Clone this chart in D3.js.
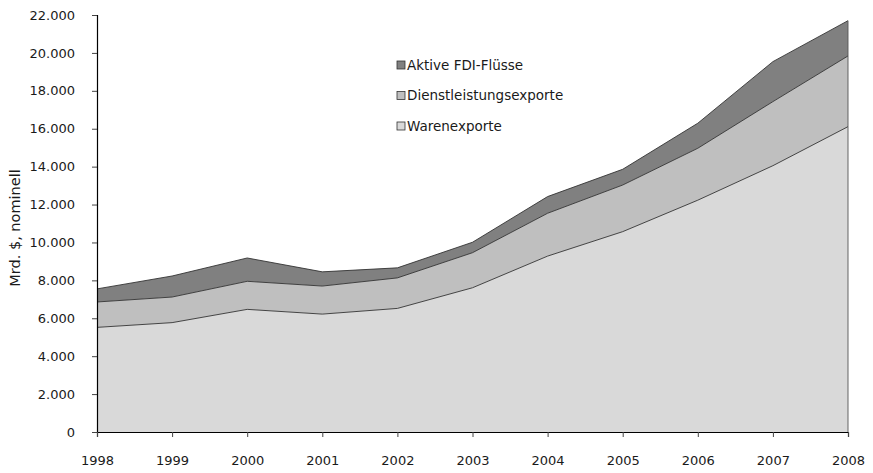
<!DOCTYPE html>
<html>
<head>
<meta charset="utf-8">
<script src="https://cdn.jsdelivr.net/npm/d3@7"></script>
<style>
  body { margin: 0; background: #fff; }
  text { font-family: "DejaVu Sans", sans-serif; fill: #1a1a1a; }
</style>
</head>
<body>
<div id="chart"></div>
<script>
// data
const years = [1998, 1999, 2000, 2001, 2002, 2003, 2004, 2005, 2006, 2007, 2008];
const warenexporte = [5520, 5770, 6470, 6220, 6520, 7610, 9280, 10570, 12230, 14050, 16110];
const dienstleistungsexporte = [1340, 1350, 1480, 1480, 1610, 1850, 2260, 2460, 2740, 3380, 3730];
const fdiFluesse = [690, 1110, 1230, 750, 530, 550, 880, 830, 1320, 2110, 1860];
const seriesNames = ["Warenexporte", "Dienstleistungsexporte", "Aktive FDI-Flüsse"];
const yTicks = [0, 2000, 4000, 6000, 8000, 10000, 12000, 14000, 16000, 18000, 20000, 22000];

const width = 873, height = 473;
const margin = {top: 15, right: 25, bottom: 41, left: 97};
const innerW = width - margin.left - margin.right;
const innerH = height - margin.top - margin.bottom;

const de = d3.formatLocale({decimal: ",", thousands: ".", grouping: [3], currency: ["", " €"]});
const fmt = de.format(",");

const svg = d3.select("#chart").append("svg")
    .attr("width", width)
    .attr("height", height);
const g = svg.append("g")
    .attr("transform", "translate(" + margin.left + "," + margin.top + ")");

const x = d3.scaleLinear().domain([1998, 2008]).range([0, innerW]);
const y = d3.scaleLinear().domain([0, 22000]).range([innerH, 0]);

const table = years.map((yr, i) => ({
    year: yr,
    "Warenexporte": warenexporte[i],
    "Dienstleistungsexporte": dienstleistungsexporte[i],
    "Aktive FDI-Flüsse": fdiFluesse[i]
}));

const stack = d3.stack().keys(seriesNames);
const layers = stack(table);
const colors = {"Warenexporte": "#d9d9d9", "Dienstleistungsexporte": "#bfbfbf", "Aktive FDI-Flüsse": "#808080"};

const area = d3.area()
    .x(d => x(d.data.year))
    .y0(d => y(d[0]))
    .y1(d => y(d[1]));

g.selectAll(".layer")
    .data(layers)
    .enter().append("path")
    .attr("class", "layer")
    .attr("d", area)
    .attr("fill", d => colors[d.key]);

// top edge of every layer
const topLine = d3.line()
    .x(d => x(d.data.year))
    .y(d => y(d[1]));
g.selectAll(".edge")
    .data(layers)
    .enter().append("path")
    .attr("class", "edge")
    .attr("d", topLine)
    .attr("fill", "none")
    .attr("stroke", "#333")
    .attr("stroke-width", 0.9);

// right border at 2008
g.append("line")
    .attr("x1", x(2008)).attr("x2", x(2008))
    .attr("y1", y(0)).attr("y2", y(d3.sum([warenexporte[10], dienstleistungsexporte[10], fdiFluesse[10]])))
    .attr("stroke", "#555")
    .attr("stroke-width", 0.9);

// axes
const yAxis = g.append("g")
    .call(d3.axisLeft(y).tickValues(yTicks).tickFormat(fmt).tickSize(5).tickPadding(17));
yAxis.select(".domain").attr("stroke", "#000").attr("stroke-width", 1.2);
yAxis.selectAll(".tick line").attr("stroke", "#444");
yAxis.selectAll("text").attr("font-size", 13);

const xAxis = g.append("g")
    .attr("transform", "translate(0," + innerH + ")")
    .call(d3.axisBottom(x).tickValues(years).tickFormat(d3.format("d")).tickSize(5).tickPadding(19));
xAxis.select(".domain").attr("stroke", "#000").attr("stroke-width", 1.2);
xAxis.selectAll(".tick line").attr("stroke", "#444");
xAxis.selectAll("text").attr("font-size", 13);

svg.append("text")
    .attr("transform", "translate(15,228) rotate(-90)")
    .attr("text-anchor", "middle")
    .attr("dy", "0.35em")
    .attr("font-size", 14.5)
    .text("Mrd. $, nominell");

// legend
const legendOrder = ["Aktive FDI-Flüsse", "Dienstleistungsexporte", "Warenexporte"];
const legend = svg.append("g").attr("transform", "translate(397,65)");
legendOrder.forEach((name, i) => {
    const row = legend.append("g").attr("transform", "translate(0," + (i * 30.5) + ")");
    row.append("rect")
        .attr("x", 0).attr("y", -4)
        .attr("width", 8).attr("height", 8)
        .attr("fill", colors[name])
        .attr("stroke", "#333")
        .attr("stroke-width", 0.8);
    row.append("text")
        .attr("x", 10).attr("y", 0)
        .attr("dy", "0.35em")
        .attr("font-size", 13.5)
        .text(name);
});
</script>
</body>
</html>
